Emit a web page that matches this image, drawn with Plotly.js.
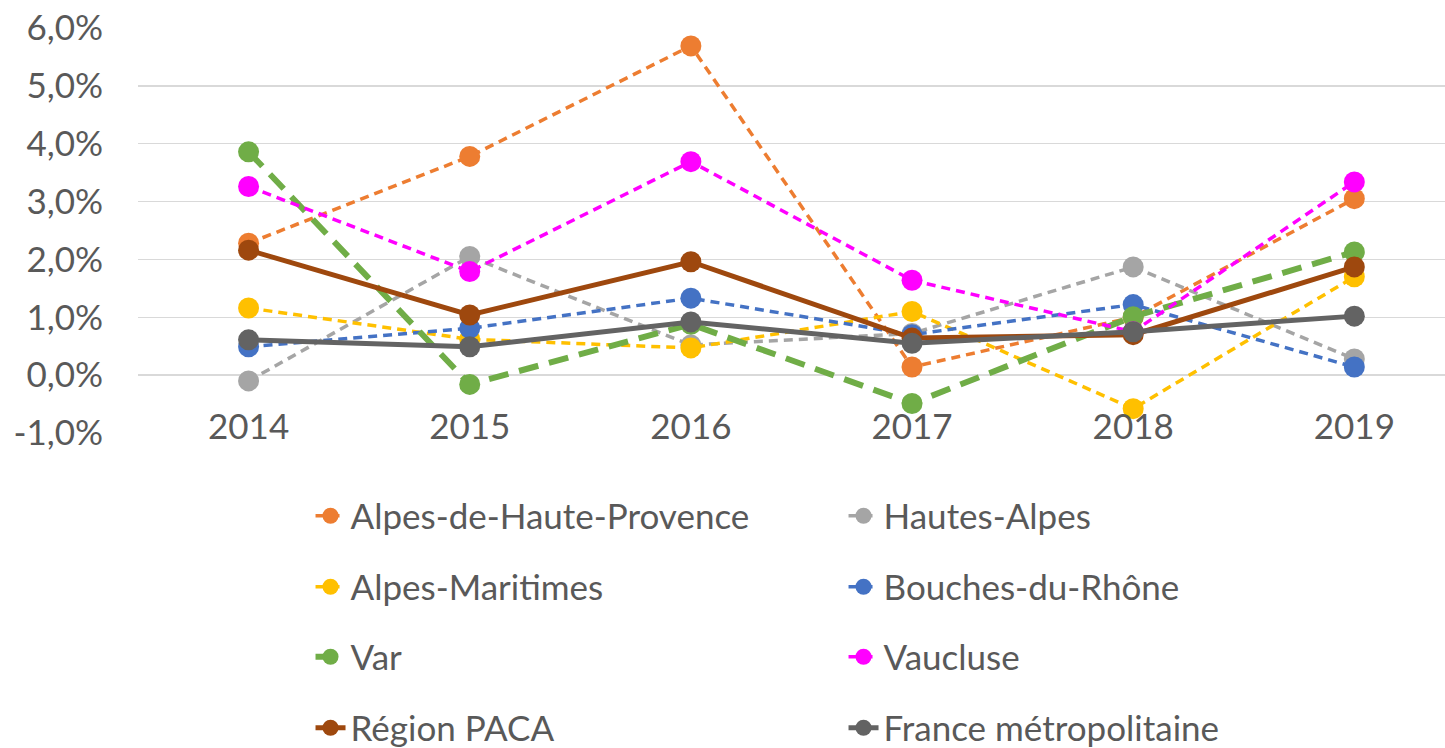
<!DOCTYPE html>
<html>
<head>
<meta charset="utf-8">
<script src="https://cdn.plot.ly/plotly-3.0.1.min.js"></script>
<style>html,body{margin:0;padding:0;background:#fff;}#chart{width:1445px;height:748px;}</style>
</head>
<body>
<div id="chart"></div>
<script>
const years = ['2014', '2015', '2016', '2017', '2018', '2019'];
const alpesHauteProvence = [2.28, 3.78, 5.69, 0.14, 1.0, 3.05];
const hautesAlpes = [-0.1, 2.05, 0.52, 0.72, 1.87, 0.28];
const alpesMaritimes = [1.16, 0.62, 0.47, 1.1, -0.58, 1.7];
const bouchesDuRhone = [0.49, 0.81, 1.33, 0.7, 1.22, 0.14];
const varDep = [3.86, -0.16, 0.88, -0.49, 1.01, 2.13];
const vaucluse = [3.26, 1.79, 3.69, 1.64, 0.75, 3.34];
const regionPaca = [2.16, 1.04, 1.96, 0.64, 0.7, 1.87];
const franceMetro = [0.61, 0.49, 0.92, 0.55, 0.75, 1.02];
const yTicks = [-1, 0, 1, 2, 3, 4, 5, 6];
const yTickText = ['-1,0%', '0,0%', '1,0%', '2,0%', '3,0%', '4,0%', '5,0%', '6,0%'];

const FONT = 'Lato, "Liberation Sans", sans-serif';
const TXT = '#595959';

function tr(name, y, color, width, dash, legend) {
  return {
    type: 'scatter', mode: 'lines+markers', x: years, y: y, name: name,
    line: {color: color, width: width, dash: dash},
    marker: {color: color, size: 21, line: {width: 0}},
    legend: legend
  };
}

const data = [
  tr('Alpes-de-Haute-Provence', alpesHauteProvence, '#ED7D31', 3.5, '9px,6px', 'legend'),
  tr('Hautes-Alpes', hautesAlpes, '#A5A5A5', 3.5, '9px,6px', 'legend'),
  tr('Alpes-Maritimes', alpesMaritimes, '#FFC000', 3.5, '9px,6px', 'legend2'),
  tr('Bouches-du-Rhône', bouchesDuRhone, '#4472C4', 3.5, '9px,6px', 'legend2'),
  tr('Var', varDep, '#70AD47', 6, '20px,11px', 'legend3'),
  tr('Vaucluse', vaucluse, '#FF00FF', 3.5, '9px,6px', 'legend3'),
  tr('Région PACA', regionPaca, '#9E480E', 5, 'solid', 'legend4'),
  tr('France métropolitaine', franceMetro, '#636363', 5, 'solid', 'legend4')
];

function leg(yPos) {
  return {
    orientation: 'h', x: 0.132, xanchor: 'left', y: yPos, yanchor: 'middle', yref: 'container',
    entrywidth: 488, entrywidthmode: 'pixels',
    font: {family: FONT, size: 35, color: TXT},
    bgcolor: 'rgba(0,0,0,0)', traceorder: 'normal'
  };
}

const layout = {
  width: 1445, height: 748,
  margin: {l: 138, r: 0, t: 28, b: 315, autoexpand: false},
  paper_bgcolor: '#ffffff', plot_bgcolor: '#ffffff',
  font: {family: FONT, color: TXT},
  showlegend: true,
  xaxis: {
    type: 'category', range: [-0.5, 5.41],
    anchor: 'free', position: (0 - (-1)) / 7,
    showgrid: false, zeroline: false, showline: false, ticks: '',
    ticklabelstandoff: 28,
    tickfont: {family: FONT, size: 35, color: TXT}
  },
  yaxis: {
    range: [-1, 6], tickmode: 'array', tickvals: yTicks, ticktext: yTickText,
    showgrid: true, gridcolor: '#D9D9D9', gridwidth: 1.5,
    zeroline: false, showline: false, ticks: '',
    ticklabelstandoff: 34,
    tickfont: {family: FONT, size: 35, color: TXT}
  },
  legend: leg(1 - 516 / 748),
  legend2: leg(1 - 587 / 748),
  legend3: leg(1 - 657 / 748),
  legend4: leg(1 - 728 / 748)
};

Plotly.newPlot('chart', data, layout, {displayModeBar: false, staticPlot: true});
</script>
</body>
</html>
